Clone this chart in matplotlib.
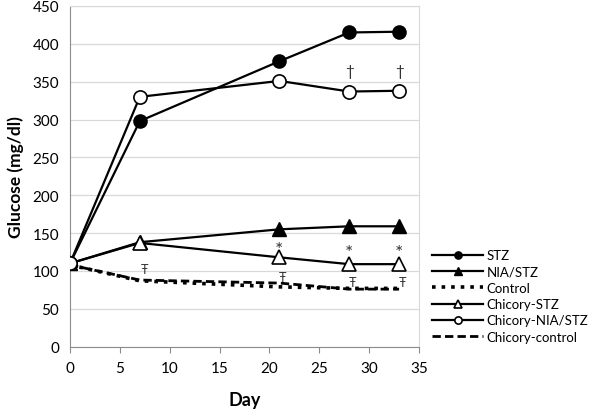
import matplotlib
matplotlib.use("Agg")
import matplotlib.pyplot as plt

days = [0, 7, 21, 28, 33]
stz = [110, 298, 377, 415, 416]
nia_stz = [110, 138, 155, 159, 159]
control = [108, 87, 79, 77, 77]
chic_stz = [110, 137, 118, 109, 109]
chic_nia_stz = [110, 330, 351, 337, 338]
chic_control = [108, 88, 84, 76, 76]

labels = ["STZ", "NIA/STZ", "Control", "Chicory-STZ", "Chicory-NIA/STZ", "Chicory-control"]

# annotations: (x, y, symbol)
dagger_x = [28, 33]
dagger_y = [364, 364]
star_x = [21, 28, 33]
star_y = [129, 125, 125]
tbar_x = [7.5, 21.3, 28.3, 33.3]
tbar_y = [103, 92, 85, 85]

plt.rcParams['font.family'] = ['Lato', 'DejaVu Sans']

fig = plt.figure(figsize=(6, 4.1), dpi=100)
ax = fig.add_axes([0.1167, 0.152, 0.5817, 0.831])

lw = 1.6
ms = 9.5
ax.plot(days, stz, '-', color='black', lw=lw, marker='o', ms=ms, mfc='black', mec='black', label=labels[0], zorder=4)
ax.plot(days, nia_stz, '-', color='black', lw=lw, marker='^', ms=ms + 1, mfc='black', mec='black', label=labels[1], zorder=4)
ax.plot(days, control, ':', color='black', lw=2.6, label=labels[2], zorder=3)
ax.plot(days, chic_stz, '-', color='black', lw=lw, marker='^', ms=ms + 1, mfc='white', mec='black', mew=1.2, label=labels[3], zorder=4)
ax.plot(days, chic_nia_stz, '-', color='black', lw=lw, marker='o', ms=ms, mfc='white', mec='black', mew=1.2, label=labels[4], zorder=5)
ax.plot(days, chic_control, '--', color='black', lw=2.0, dashes=(3, 1.5), label=labels[5], zorder=3)

for x, y in zip(dagger_x, dagger_y):
    ax.text(x, y, '†', ha='center', va='center', fontsize=11, color='#333333')
for x, y in zip(star_x, star_y):
    ax.text(x, y, '*', ha='center', va='center', fontsize=14, color='#333333', zorder=6)
for x, y in zip(tbar_x, tbar_y):
    ax.text(x, y, 'Ŧ', ha='center', va='center', fontsize=9, color='#333333')

ax.set_xlim(0, 35)
ax.set_ylim(0, 450)
ax.set_xticks(range(0, 36, 5))
ax.set_yticks(range(0, 451, 50))
ax.yaxis.grid(True, color='#d9d9d9', lw=0.9)
ax.set_axisbelow(True)
for s in ['top', 'right']:
    ax.spines[s].set_color('#d9d9d9')
for s in ['left', 'bottom']:
    ax.spines[s].set_color('#8c8c8c')
ax.tick_params(axis='both', labelsize=11, color='#8c8c8c', length=4, direction='in')
ax.tick_params(axis='y', length=0, pad=8)
ax.tick_params(axis='x', direction='out', pad=6)

ax.set_ylabel('Glucose (mg/dl)', fontsize=12.5, fontweight='bold', labelpad=6)
ax.set_xlabel('Day', fontsize=13, fontweight='bold', labelpad=12)

leg = fig.legend(loc='upper left', bbox_to_anchor=(0.712, 0.402), frameon=False,
                 fontsize=9.5, handlelength=3.8, markerscale=0.55, labelspacing=0.32,
                 handletextpad=0.3, borderaxespad=0)

fig.savefig('out.png', dpi=100)
